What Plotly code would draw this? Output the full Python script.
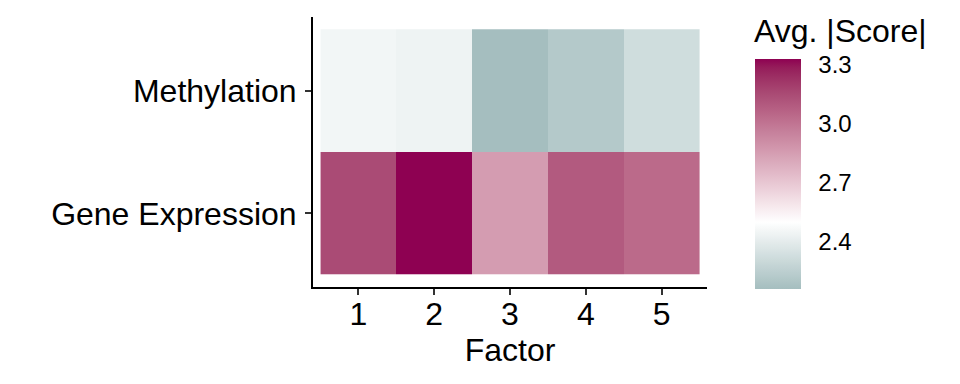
import plotly.graph_objects as go

# ---- data ----
factors = [1, 2, 3, 4, 5]
views = ["Gene Expression", "Methylation"]
gene_expression = [3.15, 3.33, 2.855, 3.096, 3.038]
methylation = [2.453, 2.437, 2.16, 2.218, 2.323]
cbar_ticks = [2.4, 2.7, 3.0, 3.3]
midpoint = 2.5

LOW, MID, HIGH = "#A5BEBF", "#FFFFFF", "#8E0152"


# ---- Lab interpolation (like ggplot's gradient2) ----
def _lin(c):
    c = c / 255.0
    return c / 12.92 if c <= 0.04045 else ((c + 0.055) / 1.055) ** 2.4


def _delin(c):
    c = 12.92 * c if c <= 0.0031308 else 1.055 * c ** (1 / 2.4) - 0.055
    return max(0, min(255, round(c * 255)))


WX, WY, WZ = 0.95047, 1.0, 1.08883


def _f(t):
    return t ** (1 / 3) if t > 216 / 24389 else (24389 / 27 * t + 16) / 116


def _finv(t):
    return t ** 3 if t ** 3 > 216 / 24389 else (116 * t - 16) / (24389 / 27)


def hex2lab(h):
    r, g, b = (_lin(int(h[i:i + 2], 16)) for i in (1, 3, 5))
    X = 0.4124 * r + 0.3576 * g + 0.1805 * b
    Y = 0.2126 * r + 0.7152 * g + 0.0722 * b
    Z = 0.0193 * r + 0.1192 * g + 0.9505 * b
    fx, fy, fz = _f(X / WX), _f(Y / WY), _f(Z / WZ)
    return (116 * fy - 16, 500 * (fx - fy), 200 * (fy - fz))


def lab2rgb(L, a, b):
    fy = (L + 16) / 116
    fx = fy + a / 500
    fz = fy - b / 200
    X, Y, Z = WX * _finv(fx), WY * _finv(fy), WZ * _finv(fz)
    r = 3.2406 * X - 1.5372 * Y - 0.4986 * Z
    g = -0.9689 * X + 1.8758 * Y + 0.0415 * Z
    bb = 0.0557 * X - 0.2040 * Y + 1.0570 * Z
    return "rgb(%d,%d,%d)" % (_delin(max(r, 0)), _delin(max(g, 0)), _delin(max(bb, 0)))


all_vals = gene_expression + methylation
zmin, zmax = min(all_vals), max(all_vals)
pmid = (midpoint - zmin) / (zmax - zmin)

colorscale = []
N = 20
l0, l1, l2 = hex2lab(LOW), hex2lab(MID), hex2lab(HIGH)
for i in range(N + 1):
    t = i / N
    lab = [l0[k] + (l1[k] - l0[k]) * t for k in range(3)]
    colorscale.append([pmid * t, lab2rgb(*lab)])
for i in range(1, N + 1):
    t = i / N
    lab = [l1[k] + (l2[k] - l1[k]) * t for k in range(3)]
    colorscale.append([pmid + (1 - pmid) * t, lab2rgb(*lab)])

FONT = "Liberation Sans, Arial, sans-serif"

fig = go.Figure(
    go.Heatmap(
        x=factors,
        y=[1, 2],
        z=[gene_expression, methylation],
        zmin=zmin,
        zmax=zmax,
        colorscale=colorscale,
        xgap=0,
        ygap=0,
        colorbar=dict(
            thickness=46,
            thicknessmode="pixels",
            len=230,
            lenmode="pixels",
            x=1.122,
            xanchor="left",
            xpad=0,
            y=0.4185,
            yanchor="middle",
            ypad=0,
            outlinewidth=0,
            tickvals=cbar_ticks,
            ticktext=["%.1f" % v for v in cbar_ticks],
            ticks="outside",
            ticklen=13,
            tickwidth=1,
            tickcolor="rgba(255,255,255,0)",
            tickfont=dict(family=FONT, size=24, color="#000000"),
        ),
        hoverinfo="skip",
    )
)

fig.update_layout(
    width=960,
    height=384,
    margin=dict(l=313, r=253, t=17, b=97),
    paper_bgcolor="white",
    plot_bgcolor="white",
    font=dict(family=FONT, color="#000000"),
    xaxis=dict(
        range=[0.4, 5.6],
        tickvals=factors,
        ticktext=[str(f) for f in factors],
        showline=True,
        linecolor="#000000",
        linewidth=2,
        ticks="outside",
        ticklen=6,
        tickwidth=2,
        tickcolor="#333333",
        showgrid=False,
        zeroline=False,
        ticklabelstandoff=-8,
        tickfont=dict(family=FONT, size=32, color="#000000"),
        title=dict(text="Factor", font=dict(family=FONT, size=32, color="#000000"), standoff=2),
    ),
    yaxis=dict(
        range=[0.4, 2.6],
        tickvals=[1, 2],
        ticktext=views,
        showline=True,
        linecolor="#000000",
        linewidth=2,
        ticks="outside",
        ticklen=6,
        tickwidth=2,
        tickcolor="#333333",
        showgrid=False,
        zeroline=False,
        ticklabelstandoff=2,
        tickfont=dict(family=FONT, size=32, color="#000000"),
    ),
    annotations=[
        dict(
            text="Avg. |Score|",
            xref="paper",
            yref="paper",
            x=1.122,
            y=(287 - 31) / 270,
            xanchor="left",
            yanchor="middle",
            xshift=-3,
            showarrow=False,
            font=dict(family=FONT, size=32, color="#000000"),
        )
    ],
)

fig.write_html("out.html")
